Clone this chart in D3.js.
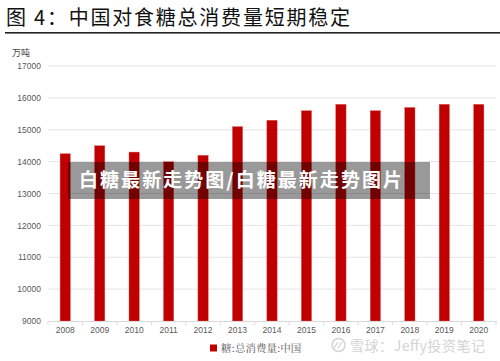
<!DOCTYPE html>
<html><head><meta charset="utf-8">
<script src="https://cdn.jsdelivr.net/npm/d3@7"></script>
<style>body{margin:0;background:#fff}svg{display:block}</style>
</head><body>
<svg id="c" width="500" height="361"></svg>
<script>
const years = ["2008","2009","2010","2011","2012","2013","2014","2015","2016","2017","2018","2019","2020"];
const consumption = [14250,14500,14300,14000,14200,15100,15300,15600,15800,15600,15700,15800,15800];
const yTicks = [9000,10000,11000,12000,13000,14000,15000,16000,17000];
const title = "图 4：中国对食糖总消费量短期稳定";
const unit = "万吨";
const legendLabel = "糖:总消费量:中国";
const overlayText = "白糖最新走势图/白糖最新走势图片";
const watermark = "雪球：Jeffy投资笔记";

const svg = d3.select("#c");
const cjk = "'Noto Sans CJK SC', sans-serif";
const serif = "'Noto Serif CJK SC','Noto Sans CJK SC', serif";
const latin = "'Liberation Sans', Arial, sans-serif";

// title
svg.append("text").attr("x",6).attr("y",25).attr("font-family",cjk).attr("font-size",20)
  .attr("fill","#111").attr("textLength",344).attr("lengthAdjust","spacing").text(title);
svg.append("rect").attr("x",5).attr("y",32).attr("width",495).attr("height",1.6).attr("fill","#222");

const m = {l:48, r:496, t:66, b:321};
const x = d3.scaleBand().domain(years).range([m.l,m.r]).paddingInner(0.7).paddingOuter(0.35);
const xb = d3.scaleBand().domain(years).range([m.l,m.r]);
const y = d3.scaleLinear().domain([9000,17000]).range([m.b,m.t]);

svg.append("text").attr("x",12).attr("y",56).attr("font-family",cjk).attr("font-size",9)
  .attr("fill","#444").text(unit);

// gridlines
svg.append("g").selectAll("line").data(yTicks.slice(1)).join("line")
  .attr("x1",m.l).attr("x2",m.r).attr("y1",d=>y(d)).attr("y2",d=>y(d))
  .attr("stroke","#e4e4e4").attr("stroke-width",1);

// y axis labels
const ya = svg.append("g").attr("transform",`translate(${m.l},0)`)
  .call(d3.axisLeft(y).tickValues(yTicks).tickSize(0).tickPadding(7).tickFormat(d3.format("d")));
ya.select(".domain").remove();
ya.selectAll("text").attr("font-family",latin).attr("font-size",8.5).attr("fill","#595959");

// bars
svg.append("g").selectAll("rect").data(years).join("rect")
  .attr("x",d=>x(d)).attr("width",x.bandwidth())
  .attr("y",(d,i)=>y(consumption[i])).attr("height",(d,i)=>m.b-y(consumption[i]))
  .attr("fill","#C00000").attr("stroke","#e07070").attr("stroke-width",0.4);

// x axis
const xa = svg.append("g").attr("transform",`translate(0,${m.b})`)
  .call(d3.axisBottom(xb).tickSize(0).tickPadding(6));
xa.select(".domain").attr("stroke","#d9d9d9");
xa.selectAll(".tk").data(d3.range(years.length+1)).join("line").attr("class","tk")
  .attr("x1",i=>m.l+i*xb.step()).attr("x2",i=>m.l+i*xb.step()).attr("y1",0).attr("y2",4)
  .attr("stroke","#d9d9d9");
xa.selectAll("text").attr("font-family",latin).attr("font-size",8.5).attr("fill","#595959");

// legend
svg.append("rect").attr("x",210).attr("y",344.5).attr("width",7).attr("height",7).attr("fill","#C00000");
svg.append("text").attr("x",221).attr("y",351.5).attr("font-family",serif).attr("font-size",10.5)
  .attr("fill","#595959").text(legendLabel);

// watermark
const wm = svg.append("g").attr("opacity",0.9);
wm.append("circle").attr("cx",338.5).attr("cy",345).attr("r",6.5).attr("fill","none")
  .attr("stroke","#cfcfcf").attr("stroke-width",1.5);
wm.append("path").attr("d","M334,348 L338,342 M338,348 L342,342").attr("stroke","#cfcfcf").attr("stroke-width",1.3).attr("fill","none");
wm.append("text").attr("x",350).attr("y",351).attr("font-family",cjk).attr("font-size",14)
  .attr("fill","#d0d0d0").attr("textLength",135).text(watermark);

// overlay banner
svg.append("rect").attr("x",68).attr("y",162).attr("width",362).attr("height",37)
  .attr("fill","#000").attr("fill-opacity",0.4);
svg.append("text").attr("x",79).attr("y",187).attr("font-family",cjk).attr("font-weight","bold")
  .attr("font-size",19).attr("fill","#fff").attr("textLength",323).text(overlayText);
</script>
</body></html>
